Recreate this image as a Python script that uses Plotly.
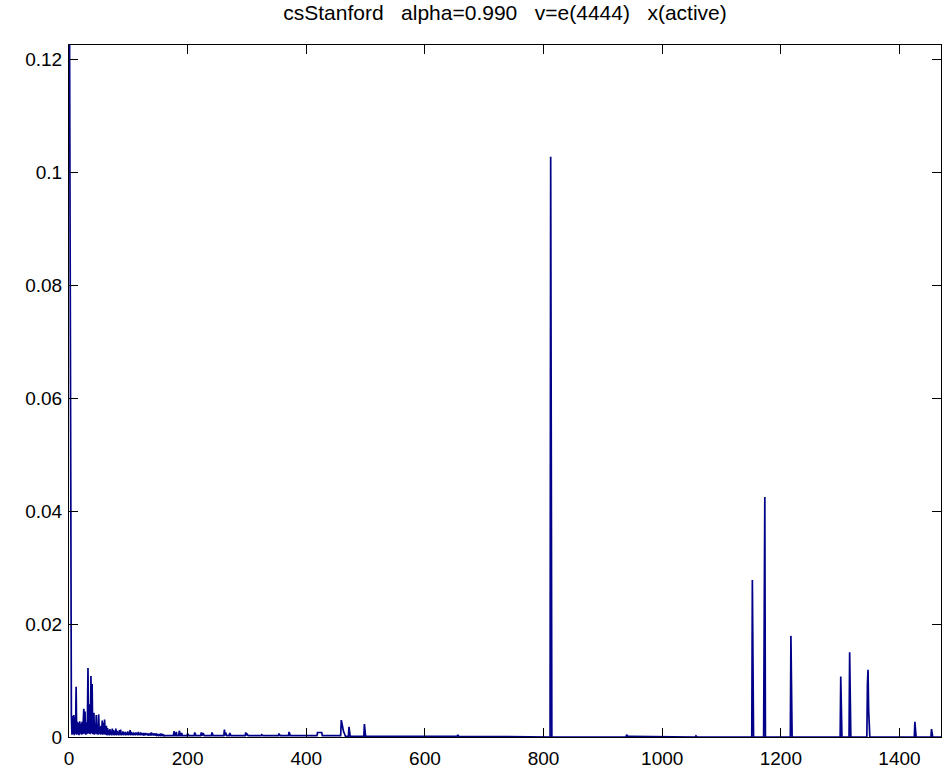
import numpy as np
import plotly.graph_objects as go

N = 1470  # number of entries in x(active)

# values of x(active) for indices 1..160
head_vals = [
    0.1225, 0.0500, 0.0450, 0.0038, 0.0004, 0.0037, 0.0005, 0.0039, 0.0003, 0.0036,
    0.0006, 0.0089, 0.0004, 0.0027, 0.0005, 0.0025, 0.0003, 0.0028, 0.0006, 0.0024,
    0.0004, 0.0027, 0.0005, 0.0021, 0.0050, 0.0006, 0.0045, 0.0004, 0.0026, 0.0005,
    0.0027, 0.0122, 0.0006, 0.0041, 0.0058, 0.0005, 0.0108, 0.0007, 0.0094, 0.0005,
    0.0031, 0.0043, 0.0004, 0.0024, 0.0006, 0.0039, 0.0005, 0.0021, 0.0004, 0.0040,
    0.0006, 0.0017, 0.0004, 0.0020, 0.0005, 0.0029, 0.0004, 0.0025, 0.0005, 0.0031,
    0.0004, 0.0015, 0.0020, 0.0003, 0.0016, 0.0004, 0.0012, 0.0003, 0.0014, 0.0004,
    0.0011, 0.0003, 0.0015, 0.0004, 0.0012, 0.0003, 0.0010, 0.0004, 0.0015, 0.0003,
    0.0011, 0.0004, 0.0009, 0.0003, 0.0012, 0.0004, 0.0013, 0.0003, 0.0008, 0.0004,
    0.0010, 0.0003, 0.0008, 0.0004, 0.0009, 0.0003, 0.0007, 0.0004, 0.0010, 0.0003,
    0.0008, 0.0004, 0.0012, 0.0003, 0.0009, 0.0004, 0.0007, 0.0003, 0.0008, 0.0004,
    0.0006, 0.0003, 0.0008, 0.0004, 0.0007, 0.0003, 0.0009, 0.0004, 0.0006, 0.0003,
    0.0008, 0.0004, 0.0006, 0.0003, 0.0007, 0.0004, 0.0005, 0.0003, 0.0007, 0.0004,
    0.0006, 0.0003, 0.0005, 0.0004, 0.0006, 0.0003, 0.0005, 0.0004, 0.0008, 0.0003,
    0.0006, 0.0004, 0.0005, 0.0003, 0.0006, 0.0004, 0.0005, 0.0003, 0.0004, 0.0003,
    0.0005, 0.0003, 0.0004, 0.0003, 0.0006, 0.0003, 0.0004, 0.0003, 0.0005, 0.0002,
]

# flat low-level runs: (first index, last index, level)
floor_segments = [
    (161, 460, 0.00025),
    (461, 720, 0.00012),
    (419, 426, 0.0008),
    (940, 973, 0.00010),
]

# isolated spikes / bumps: index and value
bump_idx = [177, 181, 186, 190, 200, 212, 223, 226, 241, 262, 264, 271, 298, 300,
            325, 354, 371, 459, 460, 461, 462, 463, 464, 472, 473, 498, 655, 656,
            812, 940, 1057, 1152, 1172, 1173, 1217, 1301, 1316, 1346, 1347, 1348,
            1426, 1454]
bump_val = [0.0010, 0.0009, 0.0011, 0.0007, 0.0006, 0.0008, 0.0008, 0.0007, 0.0008,
            0.0013, 0.0008, 0.0007, 0.0008, 0.0006, 0.0004, 0.0006, 0.0009, 0.0030,
            0.0024, 0.0017, 0.0012, 0.0009, 0.0007, 0.0018, 0.0008, 0.0023, 0.0003,
            0.0003, 0.1027, 0.0004, 0.0002, 0.0278, 0.0214, 0.0425, 0.0179, 0.0107,
            0.0150, 0.0094, 0.0119, 0.0048, 0.0027, 0.0014]

x_ticks = [0, 200, 400, 600, 800, 1000, 1200, 1400]
y_ticks = [0, 0.02, 0.04, 0.06, 0.08, 0.1, 0.12]
title_text = "csStanford   alpha=0.990   v=e(4444)   x(active)"

y = np.zeros(N)
for s, e, v in floor_segments:
    y[s - 1:e] = v
y[:len(head_vals)] = head_vals
for i, v in zip(bump_idx, bump_val):
    y[i - 1] = v
xs = np.arange(1, N + 1)

fig = go.Figure()
fig.add_trace(go.Scatter(x=xs, y=y, mode="lines",
                         line=dict(color="#000088", width=1.7),
                         hoverinfo="skip", showlegend=False))

font_family = "Liberation Sans, Arial, Helvetica, sans-serif"
axis_common = dict(showline=True, linecolor="black", linewidth=1, mirror="ticks",
                   ticks="inside", ticklen=9, tickcolor="black", tickwidth=1,
                   showgrid=False, zeroline=False, automargin=False,
                   tickfont=dict(family=font_family, size=19, color="black"))

fig.update_layout(
    width=949, height=771,
    margin=dict(l=69, r=8, t=45, b=34, autoexpand=False),
    paper_bgcolor="white", plot_bgcolor="white",
    title=dict(text=title_text.replace(" ", "\u00a0"), x=0.5, xref="paper",
               y=1 - 13 / 771, yref="container", yanchor="middle",
               font=dict(family=font_family, size=21, color="black"),
               automargin=False),
    xaxis=dict(range=[0, N], tickvals=x_ticks,
               ticktext=[str(t) for t in x_ticks], ticklabelstandoff=4,
               **axis_common),
    yaxis=dict(range=[0, 0.1225], tickvals=y_ticks,
               ticktext=["0", "0.02", "0.04", "0.06", "0.08", "0.1", "0.12"],
               ticklabelstandoff=2, **axis_common),
)

fig.write_html("out.html")
